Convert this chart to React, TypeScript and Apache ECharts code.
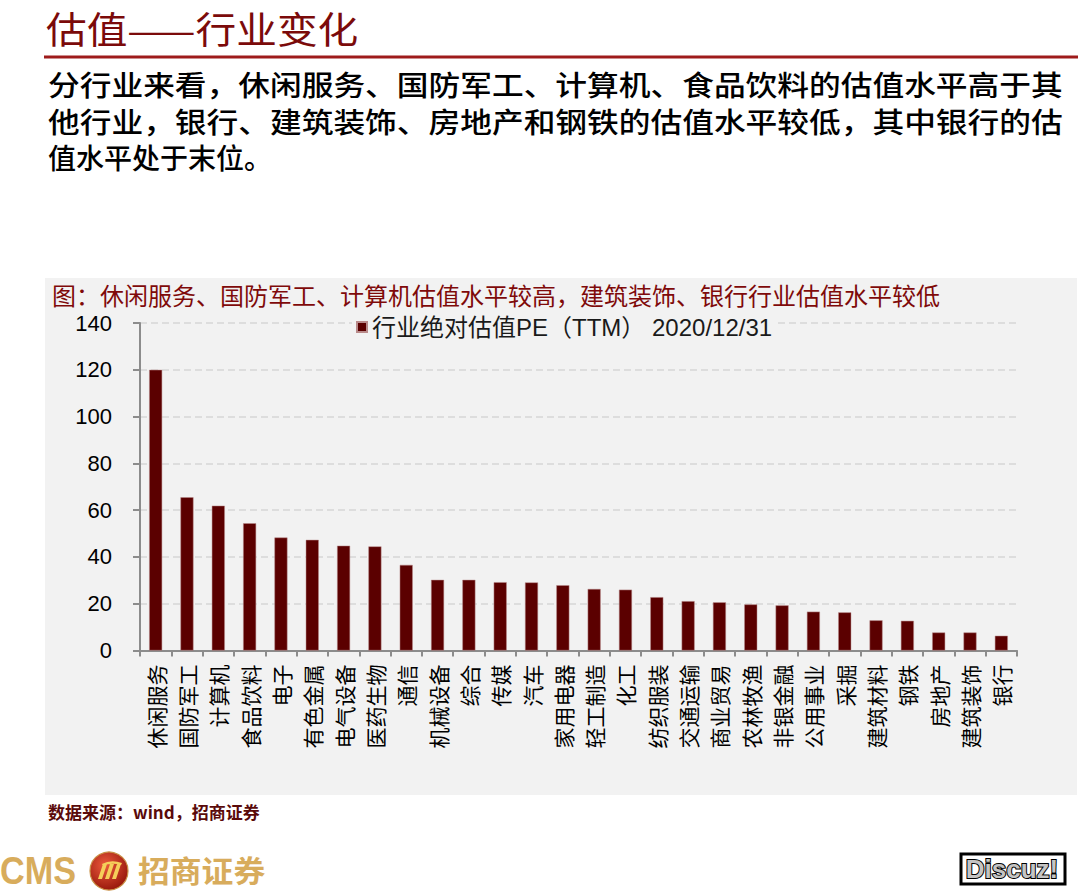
import { useEffect, useRef } from "react";
import * as echarts from "echarts";

const categories = [
  "休闲服务", "国防军工", "计算机", "食品饮料", "电子", "有色金属", "电气设备",
  "医药生物", "通信", "机械设备", "综合", "传媒", "汽车", "家用电器",
  "轻工制造", "化工", "纺织服装", "交通运输", "商业贸易", "农林牧渔",
  "非银金融", "公用事业", "采掘", "建筑材料", "钢铁", "房地产", "建筑装饰", "银行",
];
const peValues = [
  120.0, 65.5, 61.9, 54.4, 48.3, 47.3, 44.8, 44.5, 36.6, 30.2, 30.2, 29.2, 29.1, 27.9,
  26.3, 26.0, 22.8, 21.1, 20.6, 19.7, 19.3, 16.6, 16.3, 12.9, 12.7, 7.7, 7.7, 6.3,
];
const yMin = 0;
const yMax = 140;
const yInterval = 20;
const seriesName = "行业绝对估值PE（TTM） 2020/12/31";
const pageTitle = "估值——行业变化";
const paragraphLines = [
  "分行业来看，休闲服务、国防军工、计算机、食品饮料的估值水平高于其",
  "他行业，银行、建筑装饰、房地产和钢铁的估值水平较低，其中银行的估",
  "值水平处于末位。",
];
const caption = "图：休闲服务、国防军工、计算机估值水平较高，建筑装饰、银行行业估值水平较低";
const sourceNote = "数据来源：wind，招商证券";
const logoLatin = "CMS";
const logoCn = "招商证券";
const watermark = "Discuz!";

const CJK = '"Noto Sans CJK SC", "Noto Sans", sans-serif';
const LATIN = '"Liberation Sans", Arial, "Noto Sans CJK SC", sans-serif';
const BAR = "#5b0000";

export default function App() {
  const ref = useRef<HTMLDivElement>(null);

  useEffect(() => {
    document.body.style.margin = "0";
    if (!ref.current) return;
    echarts.graphic.registerShape(
      "logo",
      echarts.graphic.extendPath(
        "M2 18 L7 3 L11 3 L6 18 Z M9 18 L14 3 L18 3 L13 18 Z M16 18 L21 3 L25 3 L20 18 Z M6 3 Q15 -2 26 2 L25 4 Q15 1 7 5 Z",
        {}
      )
    );
    const chart = echarts.init(ref.current, null, { renderer: "svg" });

    const paraFont = 28;
    const paraLeft = 48;
    const paraRight = 1063;
    const paraY = [84, 121, 157];
    const paraElems = paragraphLines.map((line, i) => {
      const natural = line.length * paraFont;
      const justify = i < paragraphLines.length - 1;
      const sx = justify ? (paraRight - paraLeft) / natural : 1;
      return {
        type: "text",
        x: paraLeft,
        y: paraY[i],
        scaleX: sx,
        z: 5,
        style: {
          text: line,
          x: 0,
          y: 0,
          fill: "#000",
          font: `500 ${paraFont}px ${CJK}`,
          textVerticalAlign: "middle",
        },
      };
    });

    chart.setOption({
      animation: false,
      backgroundColor: "#ffffff",
      graphic: {
        elements: [
          {
            type: "rect",
            z: -10,
            silent: true,
            shape: { x: 45, y: 278, width: 1032, height: 517 },
            style: { fill: "#f2f2f2" },
          },
          {
            type: "text",
            x: 46,
            y: 28,
            scaleX: 1.1,
            z: 5,
            style: {
              text: pageTitle,
              fill: "#7b0a0a",
              font: `normal 37px ${CJK}`,
              textVerticalAlign: "middle",
            },
          },
          {
            type: "line",
            z: 5,
            shape: { x1: 44, y1: 57, x2: 1078, y2: 57 },
            style: { stroke: "#9e1b1b", lineWidth: 3 },
          },
          ...paraElems,
          {
            type: "text",
            x: 52,
            y: 294,
            z: 5,
            style: {
              text: caption,
              fill: "#7f0a0a",
              font: `normal 24px ${CJK}`,
              textVerticalAlign: "middle",
            },
          },
          {
            type: "text",
            x: 48,
            y: 811,
            z: 5,
            style: {
              text: sourceNote,
              fill: "#5a0a0a",
              font: `bold 17px ${CJK}`,
              textVerticalAlign: "middle",
            },
          },
          {
            type: "text",
            x: 0,
            y: 871,
            scaleX: 0.9,
            z: 5,
            style: {
              text: logoLatin,
              fill: "#d8ac5c",
              font: `bold 38px ${LATIN}`,
              textVerticalAlign: "middle",
            },
          },
          {
            type: "circle",
            z: 5,
            shape: { cx: 109, cy: 871, r: 19 },
            style: {
              fill: new echarts.graphic.RadialGradient(0.4, 0.35, 0.75, [
                { offset: 0, color: "#ec5a3c" },
                { offset: 1, color: "#8e1006" },
              ]),
              stroke: "#c98f45",
              lineWidth: 1.2,
            },
          },
          {
            type: "logo",
            x: 96,
            y: 861,
            z: 6,
            style: { fill: "#f5cf5a" },
          },
          {
            type: "text",
            x: 138,
            y: 869,
            scaleX: 1.06,
            z: 5,
            style: {
              text: logoCn,
              fill: "#d8ac5c",
              font: `bold 30px ${CJK}`,
              textVerticalAlign: "middle",
            },
          },
          {
            type: "rect",
            z: 5,
            shape: { x: 961, y: 854, width: 104, height: 30 },
            style: { fill: "#ffffff", stroke: "#000", lineWidth: 3 },
          },
          {
            type: "text",
            x: 1012,
            y: 869,
            z: 6,
            style: {
              text: watermark,
              fill: "#c4c4c4",
              stroke: "#000",
              lineWidth: 2,
              font: `bold 26px ${LATIN}`,
              textAlign: "center",
              textVerticalAlign: "middle",
            },
          },
        ],
      },
      legend: {
        show: true,
        left: 352,
        top: 313,
        padding: [2, 4],
        backgroundColor: "#f2f2f2",
        icon: "rect",
        itemWidth: 10,
        itemHeight: 10,
        itemGap: 10,
        textStyle: { fontSize: 24, color: "#1a1a1a", fontFamily: LATIN },
        data: [seriesName],
      },
      grid: { left: 140, right: 63, top: 323, bottom: 241.5, containLabel: false },
      xAxis: {
        type: "category",
        data: categories,
        boundaryGap: true,
        axisLine: { show: true, lineStyle: { color: "#8c8c8c", width: 2 } },
        axisTick: { show: true, length: 6, lineStyle: { color: "#8c8c8c", width: 2 } },
        axisLabel: {
          interval: 0,
          rotate: 90,
          margin: 14,
          fontSize: 21,
          color: "#000",
          fontFamily: CJK,
        },
      },
      yAxis: {
        type: "value",
        min: yMin,
        max: yMax,
        interval: yInterval,
        axisLine: { show: true, lineStyle: { color: "#8c8c8c", width: 2 } },
        axisTick: { show: true, length: 7, lineStyle: { color: "#8c8c8c", width: 2 } },
        axisLabel: { margin: 28, fontSize: 22, color: "#000", fontFamily: LATIN },
        splitLine: {
          show: true,
          lineStyle: { color: "#d6d6d6", width: 1.5, type: [7, 4] },
        },
      },
      series: [
        {
          name: seriesName,
          type: "bar",
          data: peValues,
          barWidth: 13,
          itemStyle: { color: BAR, borderColor: "#b98a8a", borderWidth: 0.5 },
        },
      ],
    });

    return () => {
      chart.dispose();
    };
  }, []);

  return <div ref={ref} style={{ width: 1080, height: 892 }} />;
}
